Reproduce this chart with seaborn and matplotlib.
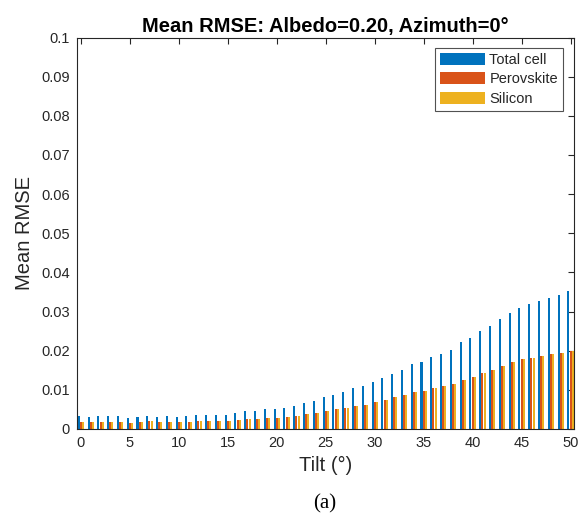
import numpy as np
import pandas as pd
import matplotlib
matplotlib.use("Agg")
import matplotlib.pyplot as plt
import seaborn as sns

tilts = list(range(0, 51))
total_cell = [0.0033, 0.0031, 0.0033, 0.0032, 0.0032, 0.0029, 0.0031, 0.0034, 0.0031, 0.0032,
              0.0030, 0.0033, 0.0037, 0.0036, 0.0035, 0.0036, 0.0042, 0.0045, 0.0046, 0.0050,
              0.0051, 0.0053, 0.0058, 0.0067, 0.0072, 0.0081, 0.0088, 0.0094, 0.0105, 0.0109,
              0.0119, 0.0129, 0.0141, 0.0151, 0.0167, 0.0172, 0.0183, 0.0192, 0.0203, 0.0221,
              0.0232, 0.0250, 0.0263, 0.0280, 0.0297, 0.0310, 0.0320, 0.0327, 0.0334, 0.0341,
              0.0353]
perovskite = [0.0019, 0.0018, 0.0019, 0.0018, 0.0018, 0.0016, 0.0017, 0.0020, 0.0018, 0.0018,
              0.0017, 0.0018, 0.0021, 0.0020, 0.0020, 0.0020, 0.0024, 0.0025, 0.0025, 0.0028,
              0.0028, 0.0030, 0.0033, 0.0038, 0.0041, 0.0045, 0.0050, 0.0053, 0.0060, 0.0062,
              0.0068, 0.0073, 0.0081, 0.0086, 0.0095, 0.0098, 0.0104, 0.0109, 0.0115, 0.0126,
              0.0133, 0.0143, 0.0150, 0.0160, 0.0170, 0.0178, 0.0182, 0.0187, 0.0192, 0.0195,
              0.0200]
silicon = [0.0019, 0.0018, 0.0019, 0.0018, 0.0018, 0.0016, 0.0017, 0.0020, 0.0018, 0.0018,
           0.0017, 0.0018, 0.0021, 0.0020, 0.0020, 0.0020, 0.0024, 0.0025, 0.0025, 0.0028,
           0.0028, 0.0030, 0.0033, 0.0038, 0.0041, 0.0045, 0.0050, 0.0053, 0.0060, 0.0062,
           0.0068, 0.0073, 0.0081, 0.0086, 0.0095, 0.0098, 0.0104, 0.0109, 0.0115, 0.0126,
           0.0133, 0.0143, 0.0150, 0.0160, 0.0170, 0.0178, 0.0182, 0.0187, 0.0192, 0.0195,
           0.0200]
series_names = ["Total cell", "Perovskite", "Silicon"]
colors = ["#0072BD", "#D95319", "#EDB120"]
xtick_vals = list(range(0, 51, 5))
ytick_vals = [0, 0.01, 0.02, 0.03, 0.04, 0.05, 0.06, 0.07, 0.08, 0.09, 0.1]
ytick_labels = ["0", "0.01", "0.02", "0.03", "0.04", "0.05", "0.06", "0.07", "0.08", "0.09", "0.1"]

df = pd.DataFrame({
    "Tilt": tilts * 3,
    "RMSE": total_cell + perovskite + silicon,
    "Series": [series_names[0]] * 51 + [series_names[1]] * 51 + [series_names[2]] * 51,
})

sns.set_style("white")
plt.rcParams["font.family"] = ["Liberation Sans", "DejaVu Sans"]

fig = plt.figure(figsize=(5.78, 5.21), dpi=100)
ax = fig.add_axes([77 / 578, 1 - 429 / 521, (574 - 77) / 578, (429 - 37.5) / 521])

sns.barplot(data=df, x="Tilt", y="RMSE", hue="Series", order=tilts,
            hue_order=series_names, palette=colors, saturation=1,
            width=0.667, gap=0.08, errorbar=None, ax=ax, linewidth=0)

axcol = "#262626"
ax.set_xlim(-0.4, 50.35)
ax.set_ylim(0, 0.1)
ax.set_xticks(xtick_vals)
ax.set_xticklabels([str(v) for v in xtick_vals])
ax.set_yticks(ytick_vals)
ax.set_yticklabels(ytick_labels)
ax.tick_params(axis="both", direction="in", length=4, width=0.8, colors=axcol,
               labelsize=10.5, top=True, right=True, labelcolor=axcol, pad=5)
for s in ax.spines.values():
    s.set_visible(True)
    s.set_color(axcol)
    s.set_linewidth(0.8)

ax.set_xlabel("Tilt (°)", fontsize=14.5, color=axcol, labelpad=4)
ax.set_ylabel("Mean RMSE", fontsize=14.5, color=axcol, labelpad=5)
ax.set_title("Mean RMSE: Albedo=0.20, Azimuth=0°", fontsize=14.5, fontweight="bold",
             color="black", pad=4)

handles, labels = ax.get_legend_handles_labels()
leg = ax.legend(handles, labels, loc="upper right", bbox_to_anchor=(0.978, 0.973),
                fontsize=10.5, frameon=True, fancybox=False, edgecolor=axcol,
                handlelength=3.1, handleheight=0.9, handletextpad=0.3,
                labelspacing=0.35, borderpad=0.35, borderaxespad=0)
leg.get_frame().set_linewidth(0.8)

fig.text(0.5625, 0.032, "(a)", ha="center", va="center", fontsize=15,
         family=["Liberation Serif", "DejaVu Serif"], color="black")

fig.savefig("out.png", dpi=100)
